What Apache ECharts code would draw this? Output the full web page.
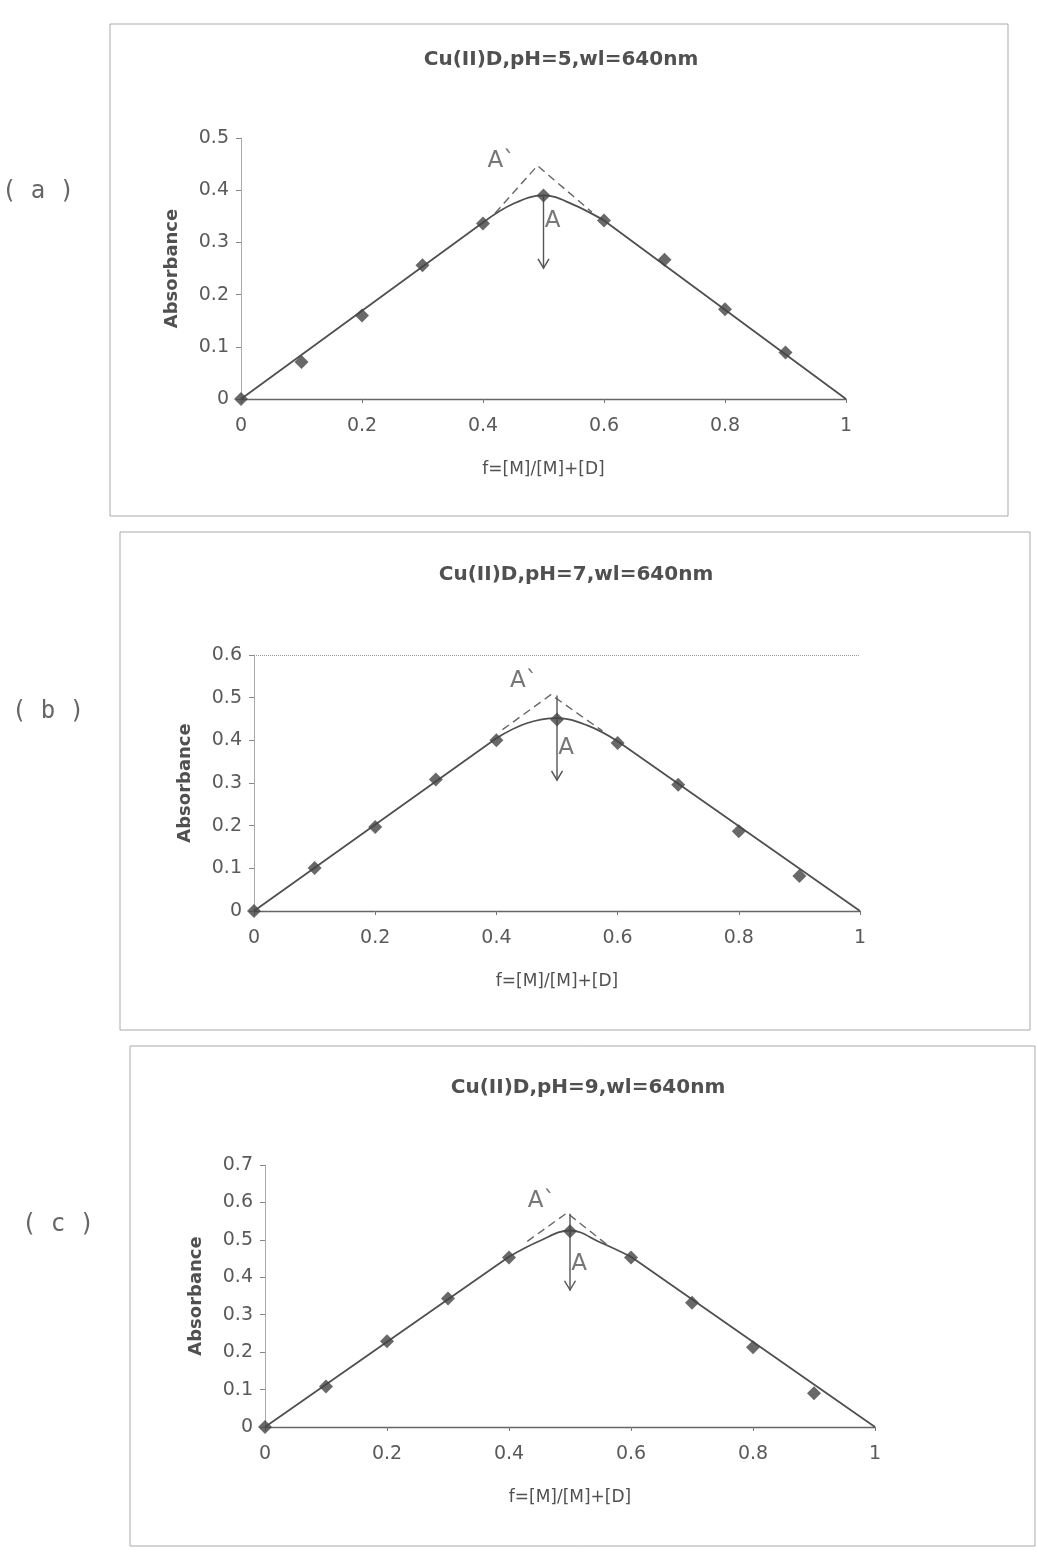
<!DOCTYPE html>
<html><head><meta charset="utf-8">
<script src="https://cdn.jsdelivr.net/npm/echarts@6/dist/echarts.min.js"></script>
<style>html,body{margin:0;padding:0;background:#fff}#c{width:1038px;height:1553px}</style>
</head><body><div id="c"></div>
<script>
// ---- data ----
const titles = ['Cu(II)D,pH=5,wl=640nm', 'Cu(II)D,pH=7,wl=640nm', 'Cu(II)D,pH=9,wl=640nm'];
const panelTags = ['( a )', '( b )', '( c )'];
const xTicks = [0, 0.2, 0.4, 0.6, 0.8, 1];
const yMaxA = 0.5, yMaxB = 0.6, yMaxC = 0.7;
const fVals = [0, 0.1, 0.2, 0.3, 0.4, 0.5, 0.6, 0.7, 0.8, 0.9];
const absA = [0, 0.071, 0.160, 0.256, 0.336, 0.390, 0.342, 0.267, 0.172, 0.089];
const absB = [0, 0.101, 0.197, 0.308, 0.400, 0.449, 0.394, 0.296, 0.187, 0.082];
const absC = [0, 0.108, 0.229, 0.343, 0.453, 0.523, 0.453, 0.332, 0.213, 0.090];
// fitted curves: straight ends, rounded top between 0.4 and 0.6
const curveA = [[0, 0], [0.4, 0.338], [0.45, 0.374], [0.5, 0.39], [0.55, 0.372], [0.6, 0.342], [1, 0]];
const curveB = [[0, 0], [0.4, 0.405], [0.45, 0.44], [0.5, 0.452], [0.55, 0.435], [0.6, 0.398], [1, 0]];
const curveC = [[0, 0], [0.4, 0.455], [0.45, 0.497], [0.5, 0.525], [0.55, 0.493], [0.6, 0.455], [1, 0]];
// dashed extrapolation to A'
const dashA = [[0.42, 0.356], [0.49, 0.447], [0.58, 0.358]];
const dashB = [[0.41, 0.425], [0.49, 0.507], [0.575, 0.422]];
const dashC = [[0.43, 0.496], [0.495, 0.572], [0.56, 0.488]];
// arrows (x, from, to)
const arrowA = [0.5, 0.39, 0.25];
const arrowB = [0.5, 0.505, 0.306];
const arrowC = [0.5, 0.57, 0.365];
// annotation labels [x, y, text]
const notesA = [[0.43, 0.455, 'A`'], [0.515, 0.34, 'A']];
const notesB = [[0.445, 0.54, 'A`'], [0.515, 0.383, 'A']];
const notesC = [[0.453, 0.605, 'A`'], [0.515, 0.436, 'A']];

// ---- layout ----
const grids = [
  {left: 241, width: 605, top: 138, height: 261},
  {left: 254, width: 606, top: 655, height: 256},
  {left: 265, width: 610, top: 1165, height: 262}
];
const titlePos = [[556, 45], [571, 560], [583, 1073]];
const tagPos = [[38, 192], [48, 712], [58, 1225]];
const boxes = [[110, 24, 898, 492], [120, 532, 910, 498], [130, 1046, 905, 500]];
const yMax = [yMaxA, yMaxB, yMaxC];
const absAll = [absA, absB, absC];
const curves = [curveA, curveB, curveC];
const dashes = [dashA, dashB, dashC];
const arrows = [arrowA, arrowB, arrowC];
const notes = [notesA, notesB, notesC];

const ink = '#444';
const txt = '#5a5a5a';
const sans = '"DejaVu Sans", sans-serif';

const option = {
  backgroundColor: '#fff',
  animation: false,
  title: titles.map((t, i) => ({
    text: t, left: titlePos[i][0], top: titlePos[i][1], textAlign: 'center',
    textStyle: {fontFamily: sans, fontWeight: 'bold', fontSize: 20, color: '#505050'}
  })),
  graphic: [
    ...boxes.map(b => ({type: 'rect', shape: {x: b[0], y: b[1], width: b[2], height: b[3]},
      style: {fill: 'none', stroke: '#aaa', lineWidth: 1}, silent: true})),
    ...panelTags.map((t, i) => ({type: 'text', x: tagPos[i][0], y: tagPos[i][1],
      style: {text: t, fontFamily: '"DejaVu Sans Mono", monospace', fontSize: 24, fill: '#666',
        align: 'center', verticalAlign: 'middle'}}))
  ],
  grid: grids.map(g => Object.assign({containLabel: false}, g)),
  xAxis: grids.map((g, i) => ({
    type: 'value', gridIndex: i, min: 0, max: 1, interval: 0.2,
    name: 'f=[M]/[M]+[D]', nameLocation: 'middle', nameGap: 62,
    nameTextStyle: {fontFamily: sans, fontSize: 17, color: '#505050'},
    axisLine: {show: true, onZero: false, lineStyle: {color: '#666', width: 1.3}},
    axisTick: {show: true, length: 4, lineStyle: {color: '#777'}},
    axisLabel: {margin: 18, fontFamily: sans, fontSize: 19, color: txt,
      formatter: v => xTicks.includes(+v.toFixed(1)) ? String(+v.toFixed(1)) : ''},
    splitLine: {show: false}
  })),
  yAxis: grids.map((g, i) => ({
    type: 'value', gridIndex: i, min: 0, max: yMax[i], interval: 0.1,
    name: 'Absorbance', nameLocation: 'middle', nameGap: 60,
    nameTextStyle: {fontFamily: sans, fontWeight: 'bold', fontSize: 18, color: '#505050'},
    axisLine: {show: true, lineStyle: {color: '#aaa', width: 1}},
    axisTick: {show: true, length: 5, lineStyle: {color: '#888'}},
    axisLabel: {margin: 12, fontFamily: sans, fontSize: 19, color: txt,
      formatter: v => String(+v.toFixed(1))},
    splitLine: {show: false}
  })),
  series: []
};

for (let i = 0; i < 3; i++) {
  const c = curves[i], n = c.length;
  // straight flanks
  option.series.push({
    type: 'line', xAxisIndex: i, yAxisIndex: i, data: [c[0], c[1], '-', c[n - 2], c[n - 1]],
    connectNulls: false, symbol: 'none', lineStyle: {color: '#505050', width: 1.8}, z: 3
  });
  // rounded top
  option.series.push({
    type: 'line', xAxisIndex: i, yAxisIndex: i, data: c.slice(1, n - 1), smooth: 0.4,
    symbol: 'none', lineStyle: {color: '#505050', width: 1.8}, z: 3
  });
  option.series.push({
    type: 'line', xAxisIndex: i, yAxisIndex: i, data: dashes[i],
    symbol: 'none', lineStyle: {color: '#666', width: 1.4, type: [8, 5]}, z: 2
  });
  const ar = arrows[i];
  option.series.push({
    type: 'line', xAxisIndex: i, yAxisIndex: i,
    data: [{value: [ar[0], ar[1]], symbol: 'none'},
           {value: [ar[0], ar[2]], symbol: 'path://M0,0L6,11L12,0', symbolSize: [11, 10],
            symbolKeepAspect: true, symbolOffset: [0, '-50%']}],
    showSymbol: true, itemStyle: {color: 'none', borderColor: '#555', borderWidth: 1.4},
    lineStyle: {color: '#555', width: 1.4}, z: 4
  });
  const sc = {
    type: 'scatter', xAxisIndex: i, yAxisIndex: i, symbol: 'diamond', symbolSize: 14,
    itemStyle: {color: ink}, data: fVals.map((f, k) => [f, absAll[i][k]]), z: 5
  };
  if (i === 1) {
    sc.markLine = {silent: true, symbol: 'none', label: {show: false},
      lineStyle: {color: '#999', type: 'dotted', width: 1}, data: [{yAxis: yMax[i]}]};
  }
  option.series.push(sc);
  option.series.push({
    type: 'scatter', xAxisIndex: i, yAxisIndex: i, symbolSize: 0, silent: true,
    data: notes[i].map(n => ({value: [n[0], n[1]], name: n[2]})),
    label: {show: true, position: 'inside', formatter: p => p.name,
      fontFamily: sans, fontSize: 23, color: '#555'}, z: 6
  });
}

const chart = echarts.init(document.getElementById('c'), null, {renderer: 'canvas'});
chart.setOption(option);
</script>
</body></html>
